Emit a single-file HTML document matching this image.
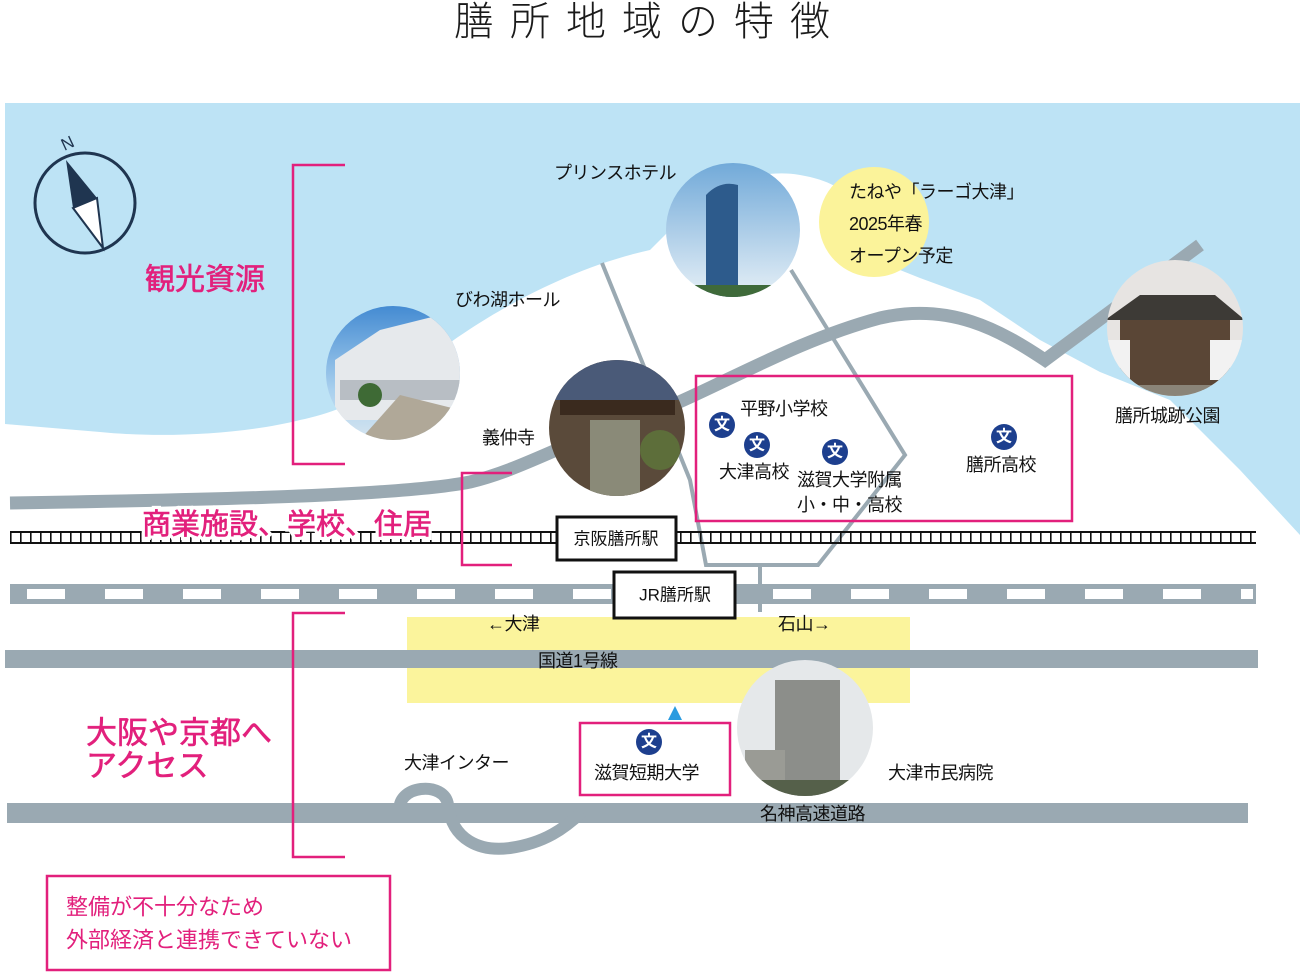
<!DOCTYPE html>
<html><head><meta charset="utf-8"><style>
html,body{margin:0;padding:0;background:#fff;width:1300px;height:973px;overflow:hidden}
svg{display:block}
text{font-family:"Liberation Sans","Noto Sans CJK JP",sans-serif;fill:#111;dominant-baseline:central}
.pk{fill:#e2207c}
</style></head><body>
<svg width="1300" height="973" viewBox="0 0 1300 973" xmlns="http://www.w3.org/2000/svg">
<defs>
<linearGradient id="sky" x1="0" y1="0" x2="0" y2="1"><stop offset="0" stop-color="#3d86d0"/><stop offset="0.6" stop-color="#a9d0ee"/><stop offset="1" stop-color="#dfe9f0"/></linearGradient>
<linearGradient id="sky2" x1="0" y1="0" x2="0" y2="1"><stop offset="0" stop-color="#6fa8d8"/><stop offset="1" stop-color="#e8f1f7"/></linearGradient>
<pattern id="tie" x="10" y="0" width="10" height="20" patternUnits="userSpaceOnUse"><rect x="0" y="0" width="1.6" height="20" fill="#111"/></pattern>
<clipPath id="c1"><circle cx="733" cy="230" r="67"/></clipPath>
<clipPath id="c2"><circle cx="393" cy="373" r="67"/></clipPath>
<clipPath id="c3"><circle cx="617" cy="428" r="68"/></clipPath>
<clipPath id="c4"><circle cx="1175" cy="328" r="68"/></clipPath>
<clipPath id="c5"><circle cx="805" cy="728" r="68"/></clipPath>
</defs>
<text x="650" y="22" text-anchor="middle" font-size="40" letter-spacing="16" style="fill:#1a1a1a;font-weight:300">膳所地域の特徴</text>
<path d="M5,103 H1300 V535 L1240,470 L1170,400 L1100,372 L1040,340 L980,300 L920,278 L880,262 C870,220 860,185 800,175 C760,168 720,185 690,210 L650,250 C560,270 480,320 440,350 C390,385 350,410 300,420 C240,435 160,438 100,432 L5,424 Z" fill="#bde3f5"/>
<circle cx="874" cy="222" r="55" fill="#fbf39a"/>
<g stroke="#9aa9b2" stroke-width="4" fill="none">
<path d="M602,263 L690,480 L706,565 L818,565 L905,455 L791,270"/>
<path d="M760,565 V612"/>
</g>
<path d="M10,503 C200,500 400,496 470,482 C520,470 560,445 620,425 C700,400 780,345 880,318 C950,302 1000,330 1045,360 L1200,245" stroke="#9aa9b2" stroke-width="13" fill="none"/>
<rect x="407" y="617" width="503" height="86" fill="#fbf49c"/>
<rect x="5" y="650" width="1253" height="18" fill="#9aa9b2"/>
<rect x="7" y="803" width="1241" height="20" fill="#9aa9b2"/>
<path d="M400,812 C395,785 445,780 448,805 C452,840 480,852 510,848 C545,843 565,828 582,812" stroke="#9aa9b2" stroke-width="12" fill="none"/>
<rect x="10" y="584" width="1246" height="20" fill="#9aa9b2"/>
<g fill="#fff">
<rect x="27" y="589" width="38" height="10"/><rect x="105" y="589" width="38" height="10"/><rect x="183" y="589" width="38" height="10"/><rect x="261" y="589" width="38" height="10"/><rect x="339" y="589" width="38" height="10"/><rect x="417" y="589" width="38" height="10"/><rect x="495" y="589" width="38" height="10"/><rect x="573" y="589" width="38" height="10"/><rect x="773" y="589" width="38" height="10"/><rect x="851" y="589" width="38" height="10"/><rect x="929" y="589" width="38" height="10"/><rect x="1007" y="589" width="38" height="10"/><rect x="1085" y="589" width="38" height="10"/><rect x="1163" y="589" width="38" height="10"/><rect x="1241" y="589" width="12" height="10"/>
</g>
<rect x="10" y="532" width="1247" height="11" fill="url(#tie)"/>
<g stroke="#111" stroke-width="2">
<line x1="10" y1="532" x2="1256" y2="532"/><line x1="10" y1="543" x2="1256" y2="543"/>
</g>
<rect x="557" y="517" width="119" height="43" fill="#fff" stroke="#111" stroke-width="3"/>
<text x="616" y="539" text-anchor="middle" font-size="17">京阪膳所駅</text>
<rect x="614" y="572" width="121" height="46" fill="#fff" stroke="#111" stroke-width="3"/>
<text x="675" y="595" text-anchor="middle" font-size="17">JR膳所駅</text>
<g clip-path="url(#c1)"><rect x="660" y="160" width="150" height="140" fill="url(#sky2)"/><path d="M706,300 V195 Q720,180 738,185 V300 Z" fill="#2d5b8c"/><rect x="690" y="285" width="90" height="20" fill="#3f6a3a"/></g>
<g clip-path="url(#c2)"><rect x="320" y="300" width="150" height="150" fill="url(#sky)"/><path d="M335,360 L380,330 L440,315 L460,330 V420 H335 Z" fill="#e6e9ec"/><path d="M340,380 H460 V400 H340 Z" fill="#b8bec4"/><path d="M360,440 L400,395 L460,410 V445 Z" fill="#b0a898"/><circle cx="370" cy="395" r="12" fill="#3e6a35"/></g>
<g clip-path="url(#c3)"><rect x="545" y="355" width="145" height="145" fill="#5a4a3a"/><rect x="545" y="360" width="145" height="40" fill="#4a5a78"/><rect x="560" y="400" width="115" height="15" fill="#3a2a1e"/><rect x="590" y="420" width="50" height="80" fill="#8a8a78"/><circle cx="660" cy="450" r="20" fill="#5d6e3a"/></g>
<g clip-path="url(#c4)"><rect x="1100" y="255" width="150" height="150" fill="#e7e4e2"/><path d="M1105,320 L1140,295 H1215 L1245,320 Z" fill="#3d3a36"/><rect x="1120" y="320" width="110" height="70" fill="#5a4636"/><rect x="1100" y="340" width="30" height="40" fill="#f2f2f2"/><rect x="1210" y="340" width="35" height="40" fill="#f2f2f2"/><rect x="1100" y="385" width="150" height="25" fill="#8a8478"/></g>
<g clip-path="url(#c5)"><rect x="735" y="655" width="145" height="150" fill="#e5e8ea"/><rect x="775" y="680" width="65" height="120" fill="#8c8e8a"/><rect x="745" y="750" width="40" height="50" fill="#9a9b95"/><rect x="735" y="780" width="145" height="30" fill="#55604a"/></g>
<g stroke="#e2207c" stroke-width="2.5" fill="none">
<path d="M345,165 H293 V464 H345"/>
<path d="M512,473 H462 V565 H512"/>
<path d="M345,613 H293 V857 H345"/>
<rect x="696" y="376" width="376" height="145"/>
<rect x="580" y="723" width="150" height="72"/>
<rect x="47" y="876" width="343" height="94"/>
</g>
<circle cx="85" cy="203" r="50" fill="none" stroke="#1f3550" stroke-width="3"/>
<polygon points="66,160 97,198 73,208" fill="#1f3550"/>
<polygon points="73,208 97,198 103,248" fill="#fff" stroke="#1f3550" stroke-width="2"/>
<text x="62" y="146" font-size="17" transform="rotate(-25 62 146)" style="fill:#1f3550">N</text>
<g>
<circle cx="722" cy="425" r="13" fill="#1d3f8e"/><text x="722" y="425" text-anchor="middle" font-size="16" font-weight="bold" style="fill:#fff">文</text>
<circle cx="757" cy="445" r="13" fill="#1d3f8e"/><text x="757" y="445" text-anchor="middle" font-size="16" font-weight="bold" style="fill:#fff">文</text>
<circle cx="835" cy="452" r="13" fill="#1d3f8e"/><text x="835" y="452" text-anchor="middle" font-size="16" font-weight="bold" style="fill:#fff">文</text>
<circle cx="1004" cy="437" r="13" fill="#1d3f8e"/><text x="1004" y="437" text-anchor="middle" font-size="16" font-weight="bold" style="fill:#fff">文</text>
<circle cx="649" cy="742" r="13" fill="#1d3f8e"/><text x="649" y="742" text-anchor="middle" font-size="16" font-weight="bold" style="fill:#fff">文</text>
</g>
<polygon points="675,706 668,720 682,720" fill="#2a9be0"/>
<g font-size="18" letter-spacing="-0.5">
<text x="554" y="173">プリンスホテル</text>
<text x="455" y="300">びわ湖ホール</text>
<text x="482" y="438">義仲寺</text>
<text x="849" y="192">たねや「ラーゴ大津」</text>
<text x="849" y="224">2025年春</text>
<text x="849" y="256">オープン予定</text>
<text x="1115" y="416">膳所城跡公園</text>
<text x="740" y="409">平野小学校</text>
<text x="719" y="472">大津高校</text>
<text x="797" y="480">滋賀大学附属</text>
<text x="797" y="505">小・中・高校</text>
<text x="966" y="465">膳所高校</text>
<text x="487" y="624">←大津</text>
<text x="778" y="624">石山→</text>
<text x="538" y="661">国道1号線</text>
<text x="404" y="763">大津インター</text>
<text x="594" y="773">滋賀短期大学</text>
<text x="888" y="773">大津市民病院</text>
<text x="760" y="814">名神高速道路</text>
</g>
<text class="pk" x="145" y="280" font-size="30" stroke="#e2207c" stroke-width="0.6">観光資源</text>
<text class="pk" x="142" y="525" font-size="29" stroke="#fff" stroke-width="7" paint-order="stroke">商業施設、学校、住居</text>
<text class="pk" x="142" y="525" font-size="29" stroke="#e2207c" stroke-width="0.6">商業施設、学校、住居</text>
<text class="pk" x="86" y="733" font-size="31" stroke="#e2207c" stroke-width="0.6">大阪や京都へ</text>
<text class="pk" x="86" y="766" font-size="31" stroke="#e2207c" stroke-width="0.6">アクセス</text>
<text class="pk" x="66" y="907" font-size="22">整備が不十分なため</text>
<text class="pk" x="66" y="940" font-size="22">外部経済と連携できていない</text>
</svg>
</body></html>
